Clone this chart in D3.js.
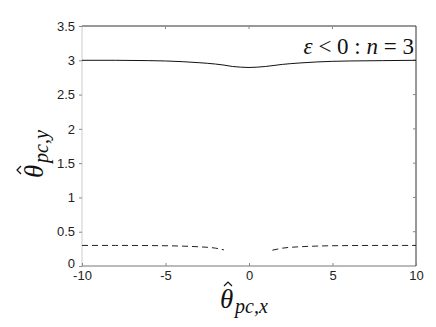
<!DOCTYPE html>
<html>
<head>
<meta charset="utf-8">
<script src="https://cdn.jsdelivr.net/npm/d3@7"></script>
<style>
  body { margin: 0; background: #fff; }
  svg { display: block; }
  .tick text { font-family: "Liberation Sans", Arial, sans-serif; font-size: 13px; fill: #222; }
  .math { font-family: "Liberation Serif", "DejaVu Serif", serif; fill: #111; }
</style>
</head>
<body>
<div id="chart"></div>
<script>
// solid curve
const solidX = [-10, -8, -6, -5, -4, -3, -2, -1.5, -1, -0.5, 0, 0.5, 1, 1.5, 2, 3, 4, 5, 6, 8, 10];
const solidY = [3.0, 3.0, 2.995, 2.99, 2.98, 2.965, 2.945, 2.93, 2.91, 2.9, 2.895, 2.9, 2.91, 2.925, 2.94, 2.96, 2.975, 2.985, 2.99, 2.995, 3.0];

// dashed curve, two branches
const dashLeftX = [-10, -8, -6, -4, -3, -2, -1.5];
const dashLeftY = [0.3, 0.3, 0.298, 0.29, 0.28, 0.26, 0.235];
const dashRightX = [1.4, 2, 3, 4, 6, 8, 10];
const dashRightY = [0.23, 0.26, 0.28, 0.29, 0.298, 0.3, 0.3];

const xTicks = [-10, -5, 0, 5, 10];
const yTicks = [0, 0.5, 1, 1.5, 2, 2.5, 3, 3.5];

const width = 436, height = 327;
const margin = {left: 82, right: 20, top: 26, bottom: 61};

const svg = d3.select("#chart").append("svg")
    .attr("width", width)
    .attr("height", height);

const x = d3.scaleLinear().domain([-10, 10]).range([margin.left, width - margin.right]);
const y = d3.scaleLinear().domain([0, 3.5]).range([height - margin.bottom, margin.top]);

// frame: left light, bottom gray, top and right dark
svg.append("line").attr("x1", x(-10)).attr("x2", x(-10)).attr("y1", y(0)).attr("y2", y(3.5))
    .attr("stroke", "#ccc").attr("stroke-width", 1);
svg.append("line").attr("x1", x(-10)).attr("x2", x(10)).attr("y1", y(0)).attr("y2", y(0))
    .attr("stroke", "#777").attr("stroke-width", 1);
svg.append("line").attr("x1", x(-10)).attr("x2", x(10)).attr("y1", y(3.5)).attr("y2", y(3.5))
    .attr("stroke", "#333").attr("stroke-width", 1);
svg.append("line").attr("x1", x(10)).attr("x2", x(10)).attr("y1", y(0)).attr("y2", y(3.5))
    .attr("stroke", "#333").attr("stroke-width", 1);

// axes (plain hyphen for negatives, like the original)
const xAxis = d3.axisBottom(x).tickValues(xTicks).tickSize(-3).tickPadding(5)
    .tickFormat(d => String(d));
const gx = svg.append("g").attr("transform", `translate(0,${y(0)})`).call(xAxis);
gx.select(".domain").remove();
gx.selectAll(".tick line").attr("stroke", "#888");

const yAxis = d3.axisLeft(y).tickValues(yTicks).tickSize(3).tickPadding(4)
    .tickFormat(d => String(d));
const gy = svg.append("g").attr("transform", `translate(${x(-10)},0)`).call(yAxis);
gy.select(".domain").remove();
gy.selectAll(".tick line").attr("stroke", "#888");
gy.selectAll(".tick text").filter(d => d === 0).attr("dy", "0.1em");

// top and right inner ticks
svg.append("g").selectAll("line").data(xTicks.slice(1, -1)).join("line")
    .attr("x1", d => x(d)).attr("x2", d => x(d))
    .attr("y1", y(3.5)).attr("y2", y(3.5) + 3)
    .attr("stroke", "#888");
svg.append("g").selectAll("line").data(yTicks.slice(1, -1)).join("line")
    .attr("x1", x(10)).attr("x2", x(10) - 3)
    .attr("y1", d => y(d)).attr("y2", d => y(d))
    .attr("stroke", "#888");

const line = d3.line().x(d => x(d[0])).y(d => y(d[1])).curve(d3.curveMonotoneX);

svg.append("path")
    .datum(d3.zip(solidX, solidY))
    .attr("d", line)
    .attr("fill", "none").attr("stroke", "#111").attr("stroke-width", 1);

[[dashLeftX, dashLeftY], [dashRightX, dashRightY]].forEach(([xs, ys]) => {
    svg.append("path")
        .datum(d3.zip(xs, ys))
        .attr("d", line)
        .attr("fill", "none").attr("stroke", "#222").attr("stroke-width", 1)
        .attr("stroke-dasharray", "6,4");
});

// annotation
const ann = svg.append("text").attr("class", "math")
    .attr("x", x(10) - 2).attr("y", 54)
    .attr("text-anchor", "end").style("font-size", "23px");
ann.append("tspan").style("font-style", "italic").text("ε");
ann.append("tspan").text(" < 0 : ");
ann.append("tspan").style("font-style", "italic").text("n");
ann.append("tspan").text(" = 3");

// theta-hat label: theta glyph, drawn hat, italic subscript
function thetaLabel(g, sub){
    g.append("text").attr("class", "math").style("font-size", "27px").style("font-style", "italic").text("θ");
    g.append("path").attr("d", "M4,-22 L8,-26 L12,-22")
        .attr("fill", "none").attr("stroke", "#111").attr("stroke-width", 1.2);
    g.append("text").attr("class", "math").attr("x", 15).attr("y", 5)
        .style("font-size", "20px").style("font-style", "italic").text(sub);
}

thetaLabel(svg.append("g").attr("transform", "translate(220,308)"), "pc,x");
thetaLabel(svg.append("g").attr("transform", "translate(43,178) rotate(-90)"), "pc,y");
</script>
</body>
</html>
